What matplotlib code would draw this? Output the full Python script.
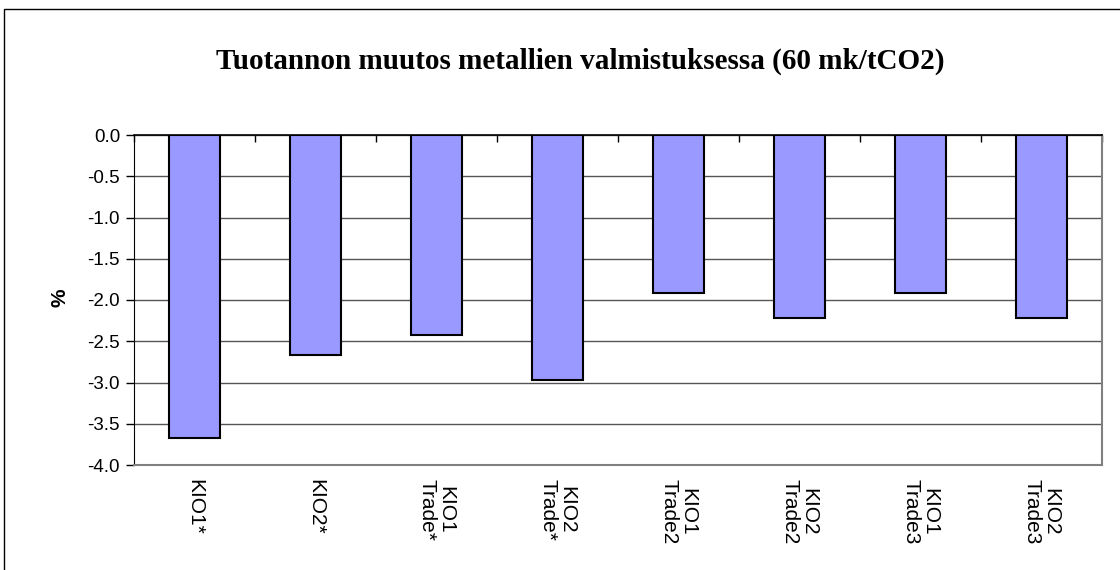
import matplotlib
matplotlib.use("Agg")
import matplotlib.pyplot as plt
from matplotlib.patches import Rectangle
from matplotlib.ticker import FixedLocator, MultipleLocator
import numpy as np

# data
categories = ["KIO1*", "KIO2*", "KIO1\nTrade*", "KIO2\nTrade*",
              "KIO1\nTrade2", "KIO2\nTrade2", "KIO1\nTrade3", "KIO2\nTrade3"]
values = [-3.67, -2.67, -2.43, -2.97, -1.92, -2.22, -1.92, -2.22]

title = "Tuotannon muutos metallien valmistuksessa (60 mk/tCO2)"
ylabel = "%"

fig = plt.figure(figsize=(11.2, 5.7), dpi=100)
ax = fig.add_axes([134 / 1120, 1 - 465 / 570, (1102 - 134) / 1120, (465 - 135) / 570])

# outer chart frame
fig.patches.append(Rectangle((4 / 1120, -0.1), 1.2, 1 - 9 / 570 + 0.1,
                             transform=fig.transFigure, fill=False,
                             edgecolor="black", linewidth=1.0, zorder=0))

x = np.arange(len(categories))
ax.bar(x, values, width=0.42, color="#9999ff", edgecolor="black",
       linewidth=1.5, zorder=3)

ax.set_xlim(-0.5, len(categories) - 0.5)
ax.set_ylim(-4.0, 0.0)
ax.yaxis.set_major_locator(MultipleLocator(0.5))
ax.set_yticklabels([f"{v:.1f}" for v in ax.get_yticks()])
ax.grid(axis="y", color="#555555", linewidth=1.0, zorder=0)

ax.tick_params(axis="y", direction="out", length=6, width=1, color="black",
               labelsize=13.5, pad=4)
for lbl in ax.get_yticklabels():
    lbl.set_family("Liberation Sans")

# category-boundary ticks on the zero line
ax.xaxis.set_major_locator(FixedLocator(np.arange(len(categories) + 1) - 0.5))
ax.xaxis.set_ticklabels([])
ax.tick_params(axis="x", which="major", direction="in", length=5, width=1,
               top=True, bottom=False, color="black")

for i, lab in enumerate(categories):
    ax.text(i, -4.17, lab, rotation=270, ha="center", va="top",
            fontsize=15, family="Liberation Sans", linespacing=1.0)

ax.spines["left"].set_color("black")
ax.spines["top"].set_color("black")
ax.spines["top"].set_linewidth(1.2)
ax.spines["right"].set_color("#808080")
ax.spines["bottom"].set_color("#808080")
ax.spines["right"].set_linewidth(1.5)
ax.spines["bottom"].set_linewidth(1.5)

fig.text(60 / 1120, 1 - 298 / 570, ylabel, rotation=90, ha="center",
         va="center", fontsize=15, fontweight="bold", family="Liberation Sans")
fig.text(580 / 1120, 1 - 61 / 570, title, ha="center", va="center",
         fontsize=21, fontweight="bold", family="Liberation Serif")

fig.savefig("out.png", dpi=100)
